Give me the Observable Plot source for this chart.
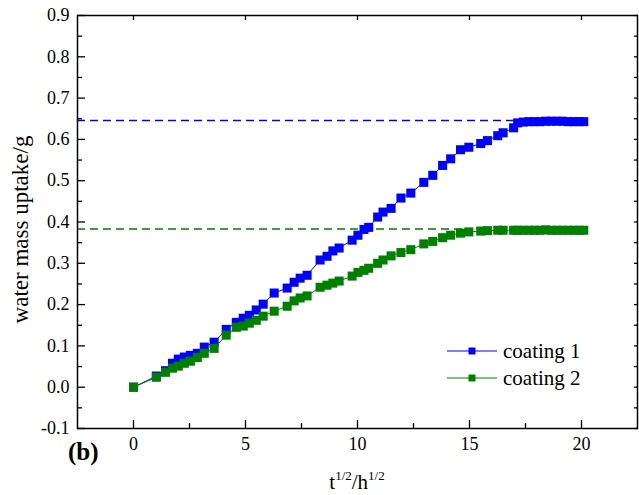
<!DOCTYPE html>
<html><head><meta charset="utf-8">
<script src="https://cdn.jsdelivr.net/npm/d3@7"></script>
<script src="https://cdn.jsdelivr.net/npm/@observablehq/plot@0.6"></script>
<style>
body{margin:0;background:#fff}
svg, svg text, svg tspan{font-family:"Liberation Serif","Times New Roman",serif !important}
</style>
</head><body><div id="chart"></div>
<script>
const tSqrt = [0, 1.02, 1.43, 1.74, 2.0, 2.27, 2.54, 2.85, 3.16, 3.6,
  4.14, 4.59, 4.9, 5.17, 5.48, 5.79, 6.28, 6.86, 7.17, 7.44,
  7.75, 8.33, 8.64, 8.9, 9.18, 9.76, 10.02, 10.29, 10.5, 10.9,
  11.14, 11.5, 11.94, 12.38, 12.96, 13.36, 13.8, 14.16, 14.6, 14.97,
  15.5, 15.8, 16.26, 16.5, 16.97, 17.15,
  17.4, 17.65, 17.9, 18.15, 18.4, 18.65, 18.9, 19.15, 19.4, 19.65, 19.9, 20.1];
const coating1 = [0, 0.027, 0.040, 0.058, 0.068, 0.073, 0.077, 0.082, 0.097, 0.109,
  0.140, 0.157, 0.167, 0.174, 0.187, 0.201, 0.228, 0.240, 0.254, 0.264,
  0.271, 0.308, 0.317, 0.330, 0.337, 0.356, 0.368, 0.382, 0.387, 0.412,
  0.424, 0.433, 0.458, 0.470, 0.496, 0.513, 0.537, 0.553, 0.575, 0.581,
  0.590, 0.597, 0.609, 0.616, 0.628, 0.640,
  0.642, 0.643, 0.643, 0.643, 0.644, 0.644, 0.644, 0.644, 0.643, 0.643, 0.643, 0.643];
const coating2 = [0, 0.024, 0.036, 0.046, 0.051, 0.058, 0.063, 0.072, 0.082, 0.094,
  0.126, 0.145, 0.148, 0.155, 0.162, 0.172, 0.184, 0.196, 0.209, 0.216,
  0.221, 0.242, 0.247, 0.252, 0.257, 0.269, 0.278, 0.283, 0.288, 0.300,
  0.308, 0.318, 0.326, 0.333, 0.347, 0.353, 0.362, 0.368, 0.373, 0.376,
  0.378, 0.379, 0.380, 0.380, 0.380, 0.380,
  0.380, 0.380, 0.380, 0.380, 0.381, 0.380, 0.380, 0.380, 0.380, 0.380, 0.380, 0.380];
const seriesNames = ["coating 1", "coating 2"];
const seriesColors = ["#0000ff", "#008000"];
const plateauLevels = [0.646, 0.383];
const plateauEnds = [17.15, 15.1];
const xDomain = [-2.5, 22.5];
const yDomain = [-0.1, 0.9];
const xMajor = [0, 5, 10, 15, 20];
const xMinor = [2.5, 7.5, 12.5, 17.5];
const yMajor = [-0.1, 0, 0.1, 0.2, 0.3, 0.4, 0.5, 0.6, 0.7, 0.8, 0.9];
const yMinor = [-0.05, 0.05, 0.15, 0.25, 0.35, 0.45, 0.55, 0.65, 0.75, 0.85];
const yRight = [...yMajor, ...yMinor];
const xLabel = ["t", "1/2", "/h", "1/2"];
const yLabel = "water mass uptake/g";
const panelLabel = "(b)";

const series = [coating1, coating2].map((ys, k) =>
  tSqrt.map((t, i) => ({t, v: ys[i], s: seriesNames[k]})));
const plateaus = plateauLevels.map((v, k) => ({v, x1: xDomain[0], x2: plateauEnds[k], c: seriesColors[k]}));

const W = 639, H = 495, mL = 77, mR = 2, mT = 15, mB = 67;
const fmt = d => d.toFixed(1);
const FONT = '"Liberation Serif","Times New Roman",serif';

const marks = [];
plateaus.forEach(p => marks.push(Plot.ruleY([p], {y: "v", x1: "x1", x2: "x2", stroke: p.c, strokeWidth: 1.5, strokeDasharray: "8,5"})));
series.forEach((data, k) => {
  marks.push(Plot.line(data, {x: "t", y: "v", stroke: seriesColors[k], strokeWidth: 1}));
  marks.push(Plot.dot(data, {x: "t", y: "v", symbol: "square", r: 5.1, fill: seriesColors[k], stroke: null}));
});
marks.push(
  Plot.frame({stroke: "#000", strokeWidth: 1.5}),
  Plot.axisY(yMajor, {anchor: "left", tickSize: -8, fill: "none", label: null, strokeWidth: 1.3}),
  Plot.axisY(yMinor, {anchor: "left", tickSize: -5, fill: "none", label: null, strokeWidth: 1.3}),
  Plot.axisY(yMajor, {anchor: "left", tickSize: 0, tickPadding: 8, tickFormat: fmt, label: null, fontSize: 18, fontFamily: FONT, fill: "#000"}),
  Plot.axisY(yRight, {anchor: "right", tickSize: -4, fill: "none", label: null, strokeWidth: 1.3}),
  Plot.axisX(xMajor, {anchor: "bottom", tickSize: -8, fill: "none", label: null, strokeWidth: 1.3}),
  Plot.axisX(xMinor, {anchor: "bottom", tickSize: -5, fill: "none", label: null, strokeWidth: 1.3}),
  Plot.axisX(xMajor, {anchor: "bottom", tickSize: 0, tickPadding: 9, label: null, fontSize: 18, fontFamily: FONT, fill: "#000"}),
  Plot.axisX(xMajor, {anchor: "top", tickSize: -4, fill: "none", label: null, strokeWidth: 1.3})
);

const plot = Plot.plot({
  width: W, height: H,
  marginLeft: mL, marginRight: mR, marginTop: mT, marginBottom: mB,
  x: {domain: xDomain},
  y: {domain: yDomain},
  style: {fontFamily: FONT, background: "#fff", color: "#000"},
  marks
});
document.getElementById("chart").appendChild(plot);

const svg = d3.select(plot);
svg.attr("font-family", FONT);
// x axis title with superscripts
const cx = (mL + W - mR) / 2;
const xt = svg.append("text").attr("x", cx).attr("y", 489).attr("text-anchor", "middle").attr("font-size", 21).attr("fill", "#000");
xLabel.forEach((s, i) => {
  const sup = i % 2 === 1;
  xt.append("tspan").attr("dy", i === 0 ? 0 : (sup ? -9 : 9)).attr("font-size", sup ? 13 : 21).text(s);
});
// y axis title
svg.append("text").attr("transform", `translate(28,${(mT + H - mB) / 2 + 8}) rotate(-90)`)
  .attr("text-anchor", "middle").attr("font-size", 23).attr("fill", "#000").text(yLabel);
// panel label
svg.append("text").attr("x", 68).attr("y", 460).attr("text-anchor", "start").attr("font-size", 25).attr("font-weight", "bold").attr("fill", "#000").text(panelLabel);
// legend
const legY = [351, 378];
seriesNames.forEach((name, k) => {
  const g = svg.append("g");
  g.append("line").attr("x1", 447).attr("x2", 497).attr("y1", legY[k]).attr("y2", legY[k]).attr("stroke", seriesColors[k]).attr("stroke-width", 1);
  g.append("rect").attr("x", 472 - 3.5).attr("y", legY[k] - 3.5).attr("width", 7).attr("height", 7).attr("fill", seriesColors[k]);
  g.append("text").attr("x", 503).attr("y", legY[k] + 7).attr("text-anchor", "start").attr("font-size", 21).attr("fill", "#000").text(name);
});
svg.selectAll("text, tspan").attr("font-family", FONT).style("font-family", FONT).style("font-variant", "normal");
</script>
</body></html>
